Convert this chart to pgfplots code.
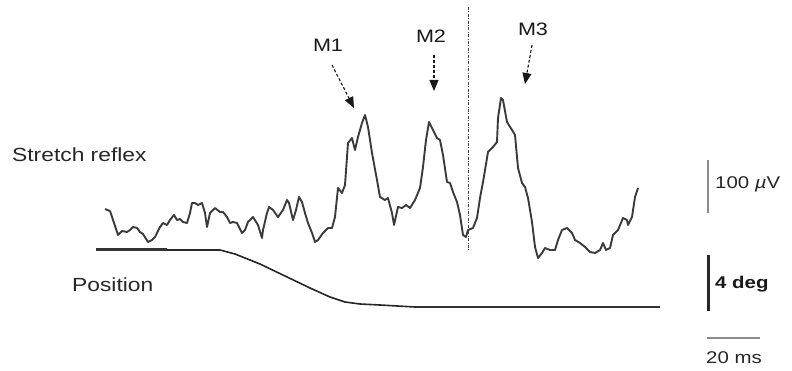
\documentclass[border=0pt]{standalone}
\usepackage{pgfplots}
\pgfplotsset{compat=1.18}
\usetikzlibrary{arrows.meta}
\usepackage{fontspec}
\setmainfont{Liberation Sans}
\newfontfamily\lab[FakeStretch=1.2]{Liberation Sans}
\definecolor{trace}{HTML}{3A3A3A}
\definecolor{barg}{HTML}{8C8C8C}
\begin{document}
\begin{tikzpicture}
\begin{axis}[width=792pt, height=371pt, scale only axis,
  xmin=0, xmax=792, ymin=0, ymax=371, y dir=reverse,
  hide axis, clip=false]
\path (rel axis cs:0,0) rectangle (rel axis cs:1,1);
% EMG trace
\addplot[trace, line width=1.9pt, line join=round, mark=none] coordinates {
(105,209) (110,211) (118,235) (122,231) (127,232) (130,230) (133,227) (137,228) (140,232) (143,234) (148,242) (152,240) (155,237) (160,227) (163,223) (167,225) (170,220) (174,215) (177,220) (180,219) (183,222) (187,223) (190,213) (192,203) (195,203) (198,205) (202,203) (205,213) (207,227) (210,213)
(215,208) (220,212) (223,212) (227,217) (230,223) (233,222) (237,223) (242,233) (245,230) (248,222) (253,217) (258,225) (262,238) (263,230) (267,213) (269,207) (273,210) (278,217) (283,210) (287,200) (289,203) (293,220) (296,210) (299,197) (302,202) (305,213) (308,223) (312,233) (315,242) (318,240) (323,233) (328,228)
(332,228) (335,217) (338,188) (342,193) (345,185) (348,143) (352,138) (355,150) (358,137) (362,123) (365,115) (368,127) (372,153) (377,180) (380,197) (385,200) (388,198) (392,213) (394,225) (398,207) (402,208) (406,205) (410,208) (415,200) (420,188) (423,167) (426,140) (429,122) (433,130) (437,138)
(440,140) (443,155) (447,182) (450,183) (453,192) (457,202) (460,215) (463,235) (466,237) (468,230) (473,228) (477,218) (480,198) (483,182) (488,152) (493,147) (497,142) (498,118) (501,98) (503,100) (507,122) (512,130) (515,135) (518,168) (522,183) (525,187) (528,198) (532,222) (535,247)
(538,258) (542,253) (545,248) (550,250) (555,250) (558,240) (562,230) (567,228) (572,233) (575,240) (580,243) (585,247) (590,252) (595,253) (600,250) (603,243) (606,250) (610,248) (613,235) (618,230) (623,218) (627,220) (628,225) (632,217) (635,197) (638,188)
};
% Position trace
\addplot[black!85, line width=1.6pt, line join=round, mark=none] coordinates {
(96,250) (220,250) (235,254) (260,264) (285,276) (310,288) (330,297) (345,302) (360,304) (380,305) (415,307) (660,307)
};
\addplot[black!80, line width=3pt, mark=none] coordinates {(96,250) (167,250)};
\addplot[black!80, line width=2.6pt, mark=none] coordinates {(415,307) (660,307)};
% vertical dashed line
\addplot[black!75, line width=0.9pt, dash pattern=on 3pt off 1.5pt on 0.8pt off 1.5pt, mark=none] coordinates {(468,7) (468,250)};
% arrows
\addplot[black!90, line width=1.1pt, densely dashed, -{Triangle[length=11pt,width=9pt]}, mark=none] coordinates {(332,65) (354,108)};
\addplot[black!90, line width=1.1pt, densely dashed, -{Triangle[length=11pt,width=9pt]}, mark=none] coordinates {(434,55) (434,91)};
\addplot[black!90, line width=1.1pt, densely dashed, -{Triangle[length=11pt,width=9pt]}, mark=none] coordinates {(532,45) (525,84)};
% scale bars
\addplot[barg, line width=2.6pt, mark=none] coordinates {(708,160) (708,213)};
\addplot[black!85, line width=3pt, mark=none] coordinates {(708,255) (708,311)};
\addplot[barg, line width=2.4pt, mark=none] coordinates {(707,338) (760,338)};
% labels
\node[anchor=west, inner sep=0pt, font=\lab\fontsize{19}{22}\selectfont, text=black!85] at (axis cs:12,155) {Stretch reflex};
\node[anchor=west, inner sep=0pt, font=\lab\fontsize{19}{22}\selectfont, text=black!85] at (axis cs:72,285) {Position};
\node[inner sep=0pt, font=\lab\fontsize{18}{22}\selectfont, text=black!90] at (axis cs:328,45) {M1};
\node[inner sep=0pt, font=\lab\fontsize{18}{22}\selectfont, text=black!90] at (axis cs:431,36) {M2};
\node[inner sep=0pt, font=\lab\fontsize{18}{22}\selectfont, text=black!90] at (axis cs:533,29) {M3};
\node[anchor=west, inner sep=0pt, font=\lab\fontsize{17}{20}\selectfont, text=black!85] at (axis cs:715,184) {100 {\itshape µ}V};
\node[anchor=west, inner sep=0pt, font=\lab\bfseries\fontsize{17}{20}\selectfont, text=black!90] at (axis cs:715,284) {4 deg};
\node[inner sep=0pt, font=\lab\fontsize{17}{20}\selectfont, text=black!85] at (axis cs:734,358) {20 ms};
\end{axis}
\end{tikzpicture}
\end{document}
